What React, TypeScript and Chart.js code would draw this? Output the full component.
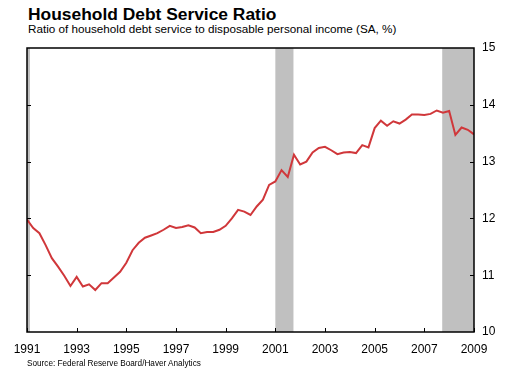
import React, { useEffect, useRef } from "react";
import { Chart, registerables } from "chart.js";

Chart.register(...registerables);

const startYear = 1991;
const dsrValues = [
  11.98, 11.83, 11.74, 11.53, 11.30, 11.15, 10.99, 10.81,
  10.97, 10.80, 10.84, 10.74, 10.86, 10.86, 10.96, 11.06,
  11.22, 11.44, 11.57, 11.66, 11.70, 11.74, 11.80, 11.87,
  11.83, 11.85, 11.88, 11.84, 11.74, 11.76, 11.76, 11.80,
  11.87, 12.00, 12.15, 12.12, 12.06, 12.21, 12.33, 12.59,
  12.65, 12.85, 12.73, 13.12, 12.95, 13.00, 13.16, 13.24,
  13.26, 13.20, 13.13, 13.16, 13.17, 13.15, 13.29, 13.25,
  13.59, 13.72, 13.63, 13.71, 13.67, 13.74, 13.83, 13.83,
  13.82, 13.84, 13.90, 13.86, 13.89, 13.47, 13.60, 13.56,
  13.48,
];
const recessions: [number, number][] = [
  [1991.0, 1991.12],
  [2001.0, 2001.73],
  [2007.72, 2009.0],
];
const xTickYears = [1991, 1993, 1995, 1997, 1999, 2001, 2003, 2005, 2007, 2009];
const yTickValues = [10, 11, 12, 13, 14, 15];

const titleText = "Household Debt Service Ratio";
const subtitleText = "Ratio of household debt service to disposable personal income (SA, %)";
const sourceText = "Source: Federal Reserve Board/Haver Analytics";

const FONT = "Arial, 'Liberation Sans', sans-serif";

export default function App() {
  const ref = useRef<HTMLCanvasElement | null>(null);

  useEffect(() => {
    if (!ref.current) return;
    const points = dsrValues.map((v, i) => ({ x: startYear + i * 0.25, y: v }));

    const framePlugin = {
      id: "frame",
      beforeDatasetsDraw(chart: any) {
        const { ctx, chartArea, scales } = chart;
        const xs = scales.x;
        ctx.save();
        ctx.fillStyle = "#c0c0c0";
        for (const [a, b] of recessions) {
          const x1 = xs.getPixelForValue(a);
          const x2 = xs.getPixelForValue(b);
          ctx.fillRect(x1, chartArea.top, x2 - x1, chartArea.bottom - chartArea.top);
        }
        ctx.restore();
      },
      afterDatasetsDraw(chart: any) {
        const { ctx, chartArea, scales } = chart;
        const xs = scales.x;
        const ys = scales.y;
        ctx.save();
        ctx.strokeStyle = "#000";
        ctx.lineWidth = 1.5;
        ctx.strokeRect(chartArea.left, chartArea.top, chartArea.right - chartArea.left, chartArea.bottom - chartArea.top);
        ctx.lineWidth = 1;
        ctx.beginPath();
        for (const v of yTickValues) {
          if (v === 10 || v === 15) continue;
          const y = Math.round(ys.getPixelForValue(v)) + 0.5;
          ctx.moveTo(chartArea.left, y);
          ctx.lineTo(chartArea.left + 4, y);
          ctx.moveTo(chartArea.right, y);
          ctx.lineTo(chartArea.right - 4, y);
        }
        for (const yr of xTickYears) {
          const x = Math.round(xs.getPixelForValue(yr)) + 0.5;
          ctx.moveTo(x, chartArea.bottom);
          ctx.lineTo(x, chartArea.bottom - 4);
        }
        ctx.stroke();
        ctx.restore();
      },
    };

    const chart = new Chart(ref.current, {
      type: "line",
      data: {
        datasets: [
          {
            data: points,
            borderColor: "#d0373a",
            borderWidth: 2,
            pointRadius: 0,
            tension: 0,
            fill: false,
          },
        ],
      },
      options: {
        animation: false,
        responsive: false,
        maintainAspectRatio: false,
        layout: { padding: { left: 27, top: 48, right: 0, bottom: 0 } },
        plugins: { legend: { display: false }, tooltip: { enabled: false }, title: { display: false } },
        scales: {
          x: {
            type: "linear",
            min: 1991,
            max: 2009,
            grid: { display: false, drawTicks: false },
            border: { display: false },
            afterBuildTicks: (s: any) => {
              s.ticks = xTickYears.map((v) => ({ value: v }));
            },
            afterFit: (s: any) => {
              s.height = 38;
            },
            ticks: {
              color: "#000",
              font: { family: FONT, size: 12 },
              padding: 10,
              maxRotation: 0,
              autoSkip: false,
              callback: (v: any) => String(v),
            },
          },
          y: {
            position: "right",
            min: 10,
            max: 15,
            grid: { display: false, drawTicks: false },
            border: { display: false },
            afterBuildTicks: (s: any) => {
              s.ticks = yTickValues.map((v) => ({ value: v }));
            },
            afterFit: (s: any) => {
              s.width = 36;
            },
            ticks: {
              color: "#000",
              font: { family: FONT, size: 12 },
              padding: 8,
              callback: (v: any) => String(v),
            },
          },
        },
      },
      plugins: [framePlugin],
    });
    return () => chart.destroy();
  }, []);

  return (
    <div style={{ position: "absolute", left: 0, top: 0, width: 510, height: 370, background: "#fff", fontFamily: FONT, color: "#000" }}>
      <div style={{ position: "absolute", left: 28, top: 6, fontSize: 17.4, fontWeight: "bold", lineHeight: "17.4px", whiteSpace: "nowrap" }}>{titleText}</div>
      <div style={{ position: "absolute", left: 28, top: 23.2, fontSize: 11.7, lineHeight: "11.7px", whiteSpace: "nowrap" }}>{subtitleText}</div>
      <canvas ref={ref} width={510} height={370} style={{ position: "absolute", left: 0, top: 0 }} />
      <div style={{ position: "absolute", left: 27, top: 359.5, fontSize: 8.2, lineHeight: "8.2px", whiteSpace: "nowrap" }}>{sourceText}</div>
    </div>
  );
}
